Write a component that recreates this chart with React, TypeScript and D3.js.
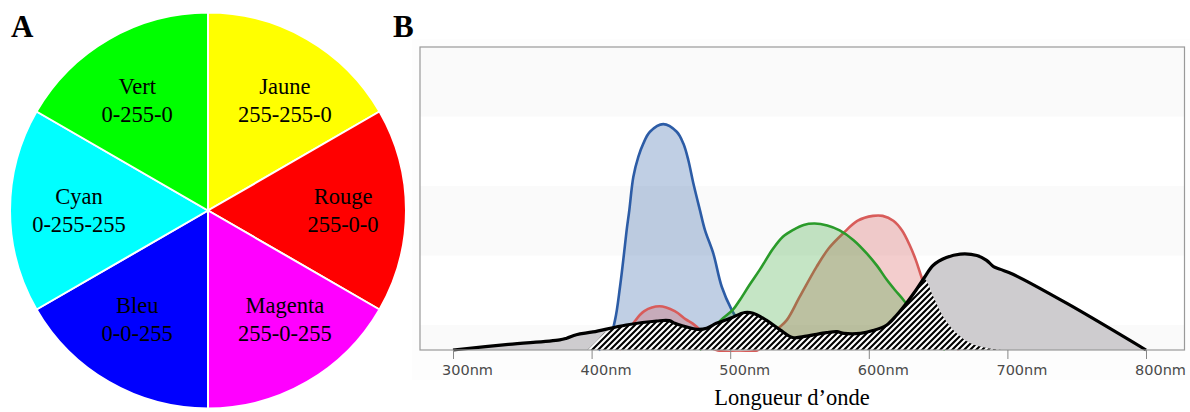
import React, { useEffect, useRef } from "react";
import * as d3 from "d3";

// ---------- Panel A data ----------
const wheelNames = ["Jaune", "Rouge", "Magenta", "Bleu", "Cyan", "Vert"];
const wheelCodes = ["255-255-0", "255-0-0", "255-0-255", "0-0-255", "0-255-255", "0-255-0"];
const wheelColors = ["#ffff00", "#ff0000", "#ff00ff", "#0000ff", "#00ffff", "#00ff00"];

// ---------- Panel B data ----------
const xTicks = [300, 400, 500, 600, 700, 800];
const yBandTicks = [0, 1, 2, 3, 4];
const yMin = -0.36;

const blueSpectrum: [number, number][] = [
  [405, -0.36], [412, -0.25], [416.9, 0.07], [420.5, 0.55], [423.4, 1.03], [425.3, 1.365],
  [427.2, 1.65], [430.1, 2.13], [433.7, 2.42], [437.3, 2.61], [442.1, 2.78], [451.7, 2.89],
  [461.4, 2.78], [466.2, 2.61], [469.8, 2.37], [473.4, 2.04], [478.2, 1.65], [481.8, 1.365],
  [487.8, 1.03], [493.9, 0.55], [501, 0.22], [507, 0.02], [515, -0.3], [520, -0.36],
];

const redSpectrum: [number, number][] = [
  [420, -0.36], [428, -0.05], [431, 0.05], [438, 0.2], [449, 0.27], [460, 0.2],
  [468, 0.08], [473, 0.02], [478, -0.07], [485, -0.3], [490, -0.36], [520, -0.36],
  [533.5, -0.07], [540.8, 0.07], [550, 0.4], [562.4, 0.84], [571, 1.1], [581.6, 1.32],
  [592, 1.5], [603, 1.57], [610, 1.57], [617.7, 1.5], [624, 1.36], [629.7, 1.14],
  [634, 0.93], [638, 0.69], [645, 0.3], [655, -0.1], [665, -0.36],
];

const greenSpectrum: [number, number][] = [
  [478, -0.36], [485, -0.2], [490, 0.0], [495, 0.1], [502, 0.22], [507, 0.36],
  [514, 0.58], [521.5, 0.8], [531, 1.1], [538, 1.27], [545.5, 1.37], [553, 1.44],
  [561, 1.46], [570, 1.43], [579, 1.36], [589, 1.22], [598.5, 1.03], [606, 0.85],
  [613, 0.65], [619, 0.5], [625, 0.36], [635, 0.1], [645, -0.2], [655, -0.36],
];

const blackSpectrum: [number, number][] = [
  [300, -0.36], [340, -0.28], [377, -0.215], [382, -0.19], [389, -0.14], [401, -0.1],
  [425, 0.0], [447, 0.057], [456, 0.062], [460, 0.024], [466, -0.014], [476, -0.062],
  [483, -0.047], [490, 0.024], [500, 0.096], [510.5, 0.18], [516.5, 0.17], [526, 0.07],
  [536, -0.07], [545, -0.18], [555, -0.16], [569.5, -0.11], [577, -0.096], [582, -0.12],
  [594, -0.12], [603, -0.08], [613, 0.0], [620, 0.14], [627, 0.31], [634, 0.5],
  [640, 0.68], [646.5, 0.86], [656, 0.97], [666, 1.02], [678, 1.0], [685, 0.93],
  [690, 0.84], [695, 0.8], [704, 0.73], [743, 0.31], [800, -0.36],
];

const hatchSpectrum: [number, number][] = [
  [397, -0.36], [405, -0.2], [411, -0.085], [425, 0.0], [447, 0.057], [456, 0.062],
  [460, 0.024], [466, -0.014], [476, -0.062], [483, -0.047], [490, 0.024], [500, 0.096],
  [510.5, 0.18], [516.5, 0.17], [526, 0.07], [536, -0.07], [545, -0.18], [555, -0.16],
  [569.5, -0.11], [577, -0.096], [582, -0.12], [594, -0.12], [603, -0.08], [613, 0.0],
  [620, 0.14], [627, 0.31], [634, 0.5], [640, 0.66], [646.5, 0.41], [653.7, 0.12],
  [663.4, -0.12], [673, -0.26], [685, -0.33], [697, -0.36],
];

const W = 1190;
const H = 412;

export default function App() {
  const axisRef = useRef<SVGGElement>(null);

  // Panel A geometry
  const cx = 208, cy = 210.5, R = 198;
  const pie = d3.pie<string>().value(() => 1).sort(null);
  const arcs = pie(wheelNames);
  const arcGen = d3.arc<d3.PieArcDatum<string>>().innerRadius(0).outerRadius(R);

  // Panel B geometry
  const box = { left: 420, top: 47, right: 1184.5, bottom: 350 };
  const x = d3.scaleLinear().domain([300, 800]).range([453, 1146]);
  const y = d3.scaleLinear().domain([yMin, 4]).range([box.bottom, box.top]);

  const curve = d3.curveCatmullRom.alpha(0.5);
  const area = d3
    .area<[number, number]>()
    .x((d) => x(d[0]))
    .y0(y(yMin))
    .y1((d) => y(d[1]))
    .curve(curve);
  const line = d3
    .line<[number, number]>()
    .x((d) => x(d[0]))
    .y((d) => y(d[1]))
    .curve(curve);

  const bandEdges = [yMin, ...yBandTicks];
  const bands = bandEdges.slice(0, -1).map((lo, i) => ({
    lo,
    hi: bandEdges[i + 1],
    fill: i % 2 === 0 ? "#fafafa" : "#ffffff",
  }));

  useEffect(() => {
    if (!axisRef.current) return;
    const g = d3.select(axisRef.current);
    g.call(
      d3
        .axisBottom(x)
        .tickValues(xTicks)
        .tickSize(9)
        .tickPadding(6)
        .tickFormat((d) => `${d}nm`)
    );
    g.select(".domain").remove();
    g.selectAll(".tick line").attr("stroke", "#888").attr("stroke-width", 1);
    g.selectAll(".tick text")
      .attr("font-family", "DejaVu Sans")
      .attr("font-size", 14.5)
      .attr("fill", "#4a4a4a")
      .attr("dx", 14);
  }, []);

  const labelPos = (a: d3.PieArcDatum<string>) => {
    const mid = (a.startAngle + a.endAngle) / 2;
    const adj = mid + ((4 * Math.PI) / 180) * (Math.sin(2 * mid) / Math.sin(Math.PI / 3));
    return [cx + 3 + 132 * Math.sin(adj), cy - 132 * Math.cos(adj)];
  };

  return (
    <svg
      width={W}
      height={H}
      style={{ position: "absolute", left: 0, top: 0, display: "block", background: "#fff" }}
    >
      <defs>
        <pattern id="hatch" patternUnits="userSpaceOnUse" width="6" height="6">
          <rect width="6" height="6" fill="#fff" />
          <path d="M-1.5,1.5 L1.5,-1.5 M0,6 L6,0 M4.5,7.5 L7.5,4.5" stroke="#000" strokeWidth="2.1" />
        </pattern>
        <clipPath id="plotClip">
          <rect x={box.left} y={box.top} width={box.right - box.left} height={box.bottom - box.top + 2} />
        </clipPath>
      </defs>

      {/* Panel A */}
      <text x={11} y={37} fontFamily="Liberation Serif" fontWeight="bold" fontSize={31}>A</text>
      <g transform={`translate(${cx},${cy})`}>
        {arcs.map((a, i) => (
          <path key={i} d={arcGen(a) || ""} fill={wheelColors[i]} stroke="#fff" strokeWidth={2} />
        ))}
      </g>
      {arcs.map((a, i) => {
        const [lx, ly] = labelPos(a);
        return (
          <text
            key={i}
            x={lx}
            textAnchor="middle"
            fontFamily="Liberation Serif"
            fontSize={22.5}
            fill="#000"
          >
            <tspan x={lx} y={ly - 7}>{wheelNames[i]}</tspan>
            <tspan x={lx} y={ly + 21}>{wheelCodes[i]}</tspan>
          </text>
        );
      })}

      {/* Panel B */}
      <text x={393} y={37} fontFamily="Liberation Serif" fontWeight="bold" fontSize={31}>B</text>
      <rect x={412} y={39} width={778} height={341} fill="#fdfdfd" />
      {bands.map((b, i) => (
        <rect
          key={i}
          x={box.left}
          y={y(b.hi)}
          width={box.right - box.left}
          height={y(b.lo) - y(b.hi)}
          fill={b.fill}
        />
      ))}
      <g clipPath="url(#plotClip)">
        <path d={area(blueSpectrum) || ""} fill="#2f5fa7" fillOpacity={0.3} />
        <path d={line(blueSpectrum) || ""} fill="none" stroke="#2c5ca6" strokeWidth={2.6} />
        <path d={area(redSpectrum) || ""} fill="#d65a5a" fillOpacity={0.3} />
        <path d={line(redSpectrum) || ""} fill="none" stroke="#d85c5a" strokeWidth={2.6} />
        <path d={area(greenSpectrum) || ""} fill="#2ea12e" fillOpacity={0.28} />
        <path d={line(greenSpectrum) || ""} fill="none" stroke="#2a9b2a" strokeWidth={2.6} />
        <path d={area(blackSpectrum) || ""} fill="#cecccf" />
        <path d={area(hatchSpectrum) || ""} fill="url(#hatch)" />
        <path d={line(blackSpectrum) || ""} fill="none" stroke="#000" strokeWidth={3.2} strokeLinejoin="round" />
      </g>
      <rect
        x={box.left}
        y={box.top}
        width={box.right - box.left}
        height={box.bottom - box.top}
        fill="none"
        stroke="#999"
        strokeWidth={1.2}
      />
      <g ref={axisRef} transform={`translate(0,${box.bottom})`} />
      <text
        x={792}
        y={405}
        textAnchor="middle"
        fontFamily="Liberation Serif"
        fontSize={22.5}
        fill="#000"
      >
        Longueur d’onde
      </text>
    </svg>
  );
}
